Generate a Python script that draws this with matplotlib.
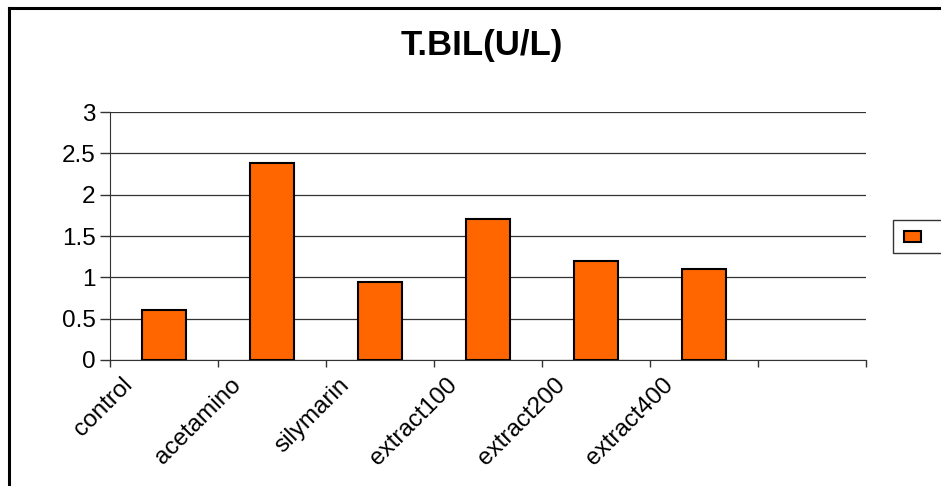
import matplotlib
matplotlib.use('Agg')
import matplotlib.pyplot as plt
from matplotlib.patches import Patch
from matplotlib.lines import Line2D
import matplotlib.transforms as mtransforms

plt.rcParams['font.family'] = ['Liberation Sans', 'DejaVu Sans']

groups = ['control', 'acetamino', 'silymarin', 'extract100', 'extract200', 'extract400']
tbil = [0.60, 2.38, 0.94, 1.70, 1.20, 1.10]
yticks = [0, 0.5, 1, 1.5, 2, 2.5, 3]
n_slots = 7  # one empty slot at the right end of the category axis

fig = plt.figure(figsize=(9.41, 4.86), dpi=100)
ax = fig.add_axes([110/941, 1 - 360/486, 756/941, 248/486])

xs = list(range(len(groups)))
ax.bar(xs, tbil, width=0.4, color='#FF6600', edgecolor='black', linewidth=1.5, zorder=3)

ax.set_xlim(-0.5, n_slots - 0.5)
ax.set_ylim(0, 3)
ax.set_yticks(yticks)
ax.set_yticklabels([f'{v:g}' for v in yticks], fontsize=17.5)
ax.yaxis.grid(True, color='#333333', linewidth=0.9, zorder=0)

bounds = [i - 0.5 for i in range(n_slots + 1)]
ax.set_xticks(bounds)
ax.set_xticklabels([])
ax.tick_params(axis='x', direction='out', length=5, width=1, color='#333333')
ax.tick_params(axis='y', direction='out', length=7.5, width=1, pad=3, color='#333333')

for s in ['top', 'right']:
    ax.spines[s].set_visible(False)
ax.spines['left'].set_color('#333333')
ax.spines['bottom'].set_color('#333333')

# category names sit on the slot boundaries, shifted slightly right
trans = mtransforms.blended_transform_factory(ax.transData, ax.transAxes)
for i, name in enumerate(groups):
    ax.text(bounds[i] + 0.11, -0.055, name, transform=trans, rotation=45,
            rotation_mode='anchor', ha='right', va='top', fontsize=17.5)

fig.text(482/941, 1 - 45/486, 'T.BIL(U/L)', ha='center', va='center',
         fontsize=25, fontweight='bold')

# legend box runs off the right edge of the figure
leg = fig.legend(handles=[Patch(facecolor='#FF6600', edgecolor='black', linewidth=1.5)],
                 labels=[''], loc='center left', bbox_to_anchor=(893/941, 1 - 236.5/486),
                 fancybox=False, edgecolor='black', fontsize=8, handlelength=1.6,
                 handleheight=1.1, borderpad=0.95, borderaxespad=0, handletextpad=2.0)
leg.get_frame().set_linewidth(1)

# chart area border (top and left edges)
fig.add_artist(Line2D([9/941, 9/941], [-0.05, 1 - 8/486], color='black', linewidth=2.2,
                      transform=fig.transFigure))
fig.add_artist(Line2D([9/941, 1.05], [1 - 8/486, 1 - 8/486], color='black', linewidth=2.2,
                      transform=fig.transFigure))

fig.savefig('out.png', dpi=100)
